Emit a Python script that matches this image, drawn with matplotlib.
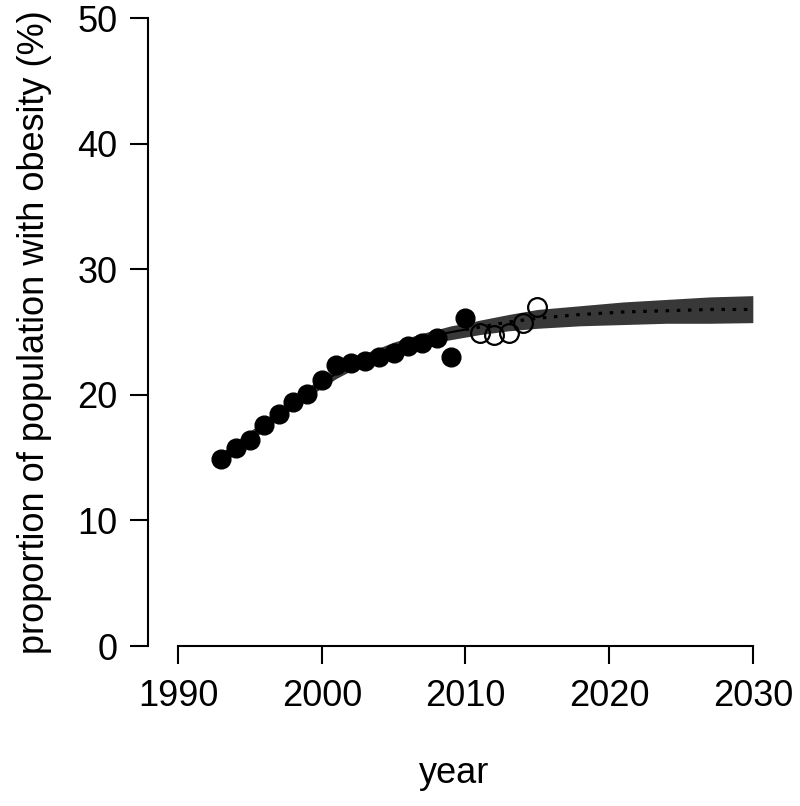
import numpy as np
import matplotlib
matplotlib.use("Agg")
import matplotlib.pyplot as plt

plt.rcParams['font.family'] = ['Liberation Sans', 'DejaVu Sans']

# observed data (filled) and later data (open)
obs_years = [1993, 1994, 1995, 1996, 1997, 1998, 1999, 2000, 2001, 2002,
             2003, 2004, 2005, 2006, 2007, 2008, 2009, 2010]
obs_vals = [14.9, 15.8, 16.4, 17.6, 18.5, 19.4, 20.1, 21.2, 22.4, 22.5,
            22.7, 23.0, 23.3, 23.9, 24.1, 24.5, 23.05, 26.15]
new_years = [2011, 2012, 2013, 2014, 2015]
new_vals = [24.9, 24.8, 24.9, 25.7, 27.0]

# fitted curve and its band
fit_years = [1993, 1995, 1997, 1999, 2001, 2003, 2005, 2007, 2009, 2010,
             2011, 2013, 2015, 2018, 2021, 2024, 2027, 2030]
fit_mid = [14.9, 16.7, 18.5, 20.2, 21.7, 22.9, 23.8, 24.5, 25.0, 25.2,
           25.4, 25.8, 26.1, 26.4, 26.6, 26.7, 26.8, 26.8]
fit_low = [14.4, 16.3, 18.1, 19.8, 21.3, 22.5, 23.4, 24.0, 24.4, 24.6,
           24.8, 25.1, 25.3, 25.5, 25.6, 25.7, 25.7, 25.75]
fit_high = [15.4, 17.1, 18.9, 20.6, 22.1, 23.3, 24.2, 24.9, 25.5, 25.7,
            25.95, 26.4, 26.8, 27.1, 27.4, 27.6, 27.8, 27.9]

fig = plt.figure(figsize=(8, 8.06), dpi=100)
ax = fig.add_axes([0.185, 0.1985, 0.765, 0.779])

ax.fill_between(fit_years, fit_low, fit_high, color='#383838', lw=0, zorder=1)
fy = np.array(fit_years)
fm = np.array(fit_mid)
solid = fy <= 2010
dotted = fy >= 2010
ax.plot(fy[solid], fm[solid], color='black', lw=1.5, zorder=2)
ax.plot(fy[dotted], fm[dotted], color='black', lw=2.3,
        linestyle=(0, (1.1, 2.4)), zorder=2)

ax.plot(obs_years, obs_vals, 'o', color='black', ms=13.5, zorder=3)
ax.plot(new_years, new_vals, 'o', color='black', ms=13.5, mew=1.6,
        fillstyle='none', zorder=3)

ax.set_xlim(1987.9, 2030.5)
ax.set_ylim(0, 50)
for s in ['top', 'right']:
    ax.spines[s].set_visible(False)
ax.spines['bottom'].set_bounds(1990, 2030)
ax.spines['left'].set_bounds(0, 50)
for s in ['bottom', 'left']:
    ax.spines[s].set_linewidth(1.5)

ax.set_xticks([1990, 2000, 2010, 2020, 2030])
ax.set_yticks([0, 10, 20, 30, 40, 50])
ax.tick_params(length=13, width=1.5, labelsize=26)
ax.tick_params(axis='y', pad=9)
ax.tick_params(axis='x', pad=11)

ax.set_xlabel('year', fontsize=26, labelpad=30)
ax.set_ylabel('proportion of population with obesity (%)', fontsize=26,
              labelpad=18)

fig.savefig('out.png', dpi=100)
